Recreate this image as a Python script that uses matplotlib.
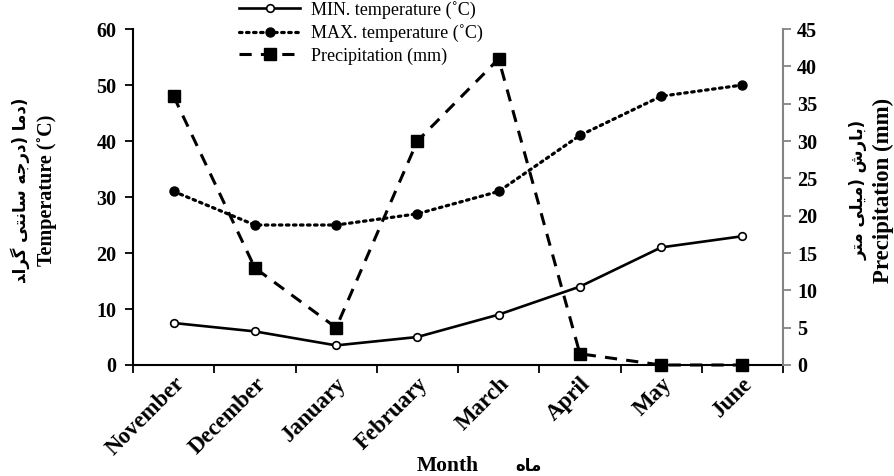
import numpy as np
import matplotlib
matplotlib.use("Agg")
import matplotlib.pyplot as plt

months = ["November", "December", "January", "February", "March", "April", "May", "June"]
t_min = [7.5, 6, 3.5, 5, 9, 14, 21, 23]
t_max = [31, 25, 25, 27, 31, 41, 48, 50]
precip = [36, 13, 5, 30, 41, 1.5, 0, 0]

# Persian labels written in visual order with Arabic presentation forms
fa_temp = ("\uFEAA\uFE8D\uFEAE\uFB94 \uFBFD\uFE98\uFEE7\uFE8E\uFEB3 "
           "\uFEEA\uFE9F\uFEAD\uFEA9) \uFE8E\uFEE3\uFEA9)")
fa_prec = "\uFEAE\uFE98\uFEE3 \uFBFD\uFEE0\uFBFF\uFEE3) \uFEB5\uFEAD\uFE8E\uFE91)"
fa_month = "\uFEE9\uFE8E\uFEE3"

serif = ["Liberation Serif", "DejaVu Sans"]
bold = dict(family=serif, weight="bold", size=14.5)
fa_font = dict(family=["DejaVu Sans"], weight="bold", size=12)

fig = plt.figure(figsize=(8.95, 4.76), dpi=100)
ax = fig.add_axes([0.1486, 0.2332, 0.7263, 0.7058])
ax2 = ax.twinx()

x = np.arange(len(months))
ax.plot(x, t_min, color="black", lw=1.9, marker="o", ms=5.5, mfc="white", mec="black", mew=1.2,
        label="MIN. temperature (\u02daC)", zorder=3)
ax.plot(x, t_max, color="black", lw=2.3, ls=(0, (0.8, 1.4)), dash_capstyle="round", marker="o", ms=6.5,
        label="MAX. temperature (\u02daC)", zorder=3)
ax2.plot(x, precip, color="black", lw=2.2, ls=(0, (4, 3)), marker="s", ms=8,
         label="Precipitation (mm)", clip_on=False)

ax.set_xlim(-0.5, len(months) - 0.5)
ax.set_ylim(0, 60)
ax2.set_ylim(0, 45)
ax.set_yticks(np.arange(0, 61, 10))
ax2.set_yticks(np.arange(0, 46, 5))

ax.set_xticks(np.arange(-0.5, len(months), 1))
ax.set_xticklabels([])
ax.set_xticks(x, minor=True)
ax.set_xticklabels(months, minor=True, rotation=45, ha="right", va="top",
                   rotation_mode="anchor", family=serif, weight="bold", size=16.5)
ax.tick_params(axis="x", which="minor", length=0, pad=6)
ax.tick_params(axis="x", which="major", length=6, width=1.3, direction="out")
ax.tick_params(axis="y", length=6, width=1.3, direction="out", pad=6)
ax2.tick_params(axis="y", length=6, width=1.3, direction="out", color="#858585", pad=4)
for lab in ax.get_yticklabels():
    lab.set(**bold)
for lab in ax2.get_yticklabels():
    lab.set(**bold)

for a in (ax, ax2):
    a.spines["top"].set_visible(False)
    a.set_facecolor("none")
ax.spines["right"].set_visible(False)
ax2.spines["left"].set_visible(False)
ax2.spines["bottom"].set_visible(False)
ax.spines["left"].set_linewidth(1.5)
ax.spines["bottom"].set_linewidth(1.5)
ax2.spines["right"].set_linewidth(1.5)
ax2.spines["right"].set_color("#858585")

# axis titles
fig.text(0.052, 0.60, "Temperature (\u02daC)", rotation=90, ha="center", va="center", **bold)
fig.text(0.023, 0.60, fa_temp, rotation=90, ha="center", va="center", **fa_font)
fig.text(0.987, 0.60, "Precipitation (mm)", rotation=90, ha="center", va="center",
         family=serif, weight="bold", size=16.5)
fig.text(0.959, 0.60, fa_prec, rotation=90, ha="center", va="center", **fa_font)
fig.text(0.5, 0.022, "Month", ha="center", va="center", family=serif, weight="bold", size=15.5)
fig.text(0.59, 0.022, fa_month, ha="center", va="center", **fa_font)

handles = ax.get_lines() + ax2.get_lines()
fig.legend(handles, [h.get_label() for h in handles], loc="upper left",
           bbox_to_anchor=(0.253, 1.025), frameon=False, handlelength=3.4,
           handletextpad=0.6, labelspacing=0.3, borderpad=0.2,
           prop=dict(family=serif, size=13))

fig.savefig("out.png", dpi=100)
